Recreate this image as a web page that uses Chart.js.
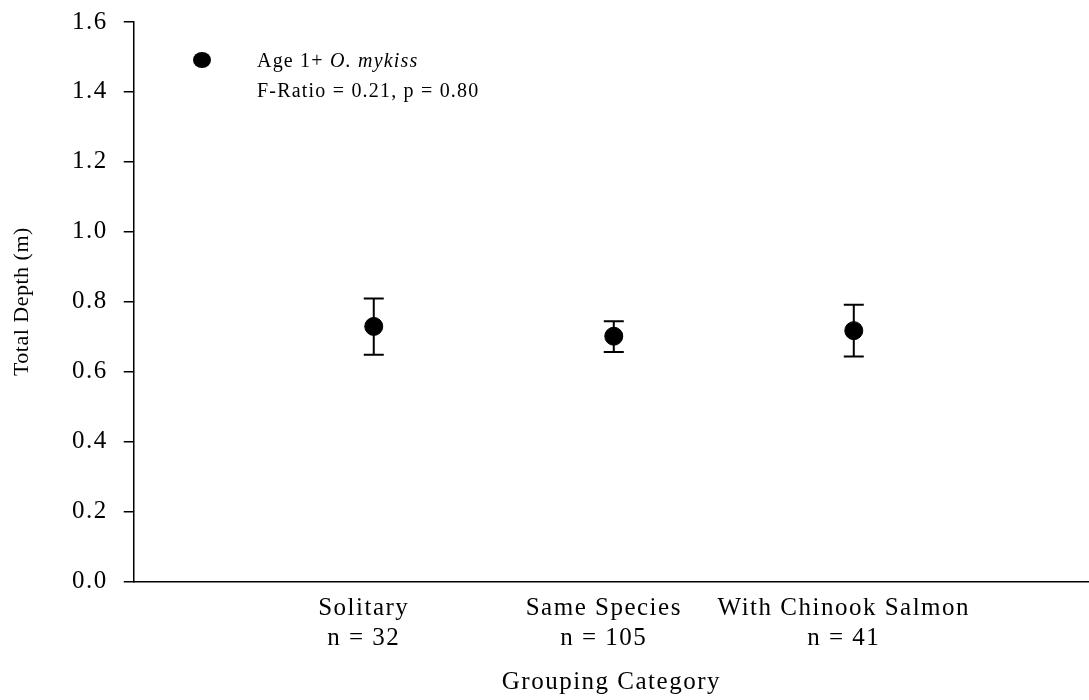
<!DOCTYPE html>
<html>
<head>
<meta charset="utf-8">
<title>Total Depth by Grouping Category</title>
<script src="https://cdn.jsdelivr.net/npm/chart.js@4"></script>
<style>
    html, body { margin: 0; background: #fff; overflow: hidden; }
    #wrap { width: 1089px; height: 700px; }
</style>
</head>
<body>
<div id="wrap"><canvas id="chart-depth"></canvas></div>
<script>
// Datos
const categorias = ['Solitary', 'Same Species', 'With Chinook Salmon'];
const tamanos = [32, 105, 41];
const posiciones = [1, 2, 3];
const medias = [0.729, 0.701, 0.717];
const limiteSup = [0.809, 0.744, 0.791];
const limiteInf = [0.648, 0.656, 0.643];
const ticksY = [0, 0.2, 0.4, 0.6, 0.8, 1.0, 1.2, 1.4, 1.6];

const SERIF = "'Liberation Serif', 'Times New Roman', serif";

// Espaciado de letras como en la figura original
const espaciado = {
    id: 'espaciado',
    beforeUpdate(chart) { chart.ctx.letterSpacing = '1.5px'; },
    beforeDraw(chart) { chart.ctx.letterSpacing = '1.5px'; }
};

// Barras de error (se dibujan antes de los puntos)
const errorBars = {
    id: 'errorBars',
    beforeDatasetsDraw(chart) {
        const ctx = chart.ctx;
        const x = chart.scales.x;
        const y = chart.scales.y;
        ctx.save();
        ctx.strokeStyle = '#000';
        ctx.lineWidth = 2;
        posiciones.forEach((p, i) => {
            const px = x.getPixelForValue(p);
            const top = y.getPixelForValue(limiteSup[i]);
            const bot = y.getPixelForValue(limiteInf[i]);
            ctx.beginPath();
            ctx.moveTo(px, top);
            ctx.lineTo(px, bot);
            ctx.moveTo(px - 10, top);
            ctx.lineTo(px + 10, top);
            ctx.moveTo(px - 10, bot);
            ctx.lineTo(px + 10, bot);
            ctx.stroke();
        });
        ctx.restore();
    }
};

// Leyenda y titulo del eje Y
const textos = {
    id: 'textos',
    afterDraw(chart) {
        const ctx = chart.ctx;
        const area = chart.chartArea;
        ctx.save();
        ctx.fillStyle = '#000';
        ctx.beginPath();
        ctx.ellipse(202, 60, 9, 8, 0, 0, Math.PI * 2);
        ctx.fill();

        ctx.textBaseline = 'middle';
        ctx.letterSpacing = '1.2px';
        ctx.font = '20px ' + SERIF;
        let tx = 257;
        const parte1 = 'Age 1+ ';
        ctx.fillText(parte1, tx, 62);
        tx += ctx.measureText(parte1).width;
        ctx.font = 'italic 20px ' + SERIF;
        ctx.fillText('O. mykiss', tx, 62);
        ctx.font = '20px ' + SERIF;
        ctx.fillText('F-Ratio = 0.21, p = 0.80', 257, 92);

        // Titulo del eje Y
        ctx.letterSpacing = '0.5px';
        ctx.font = '22px ' + SERIF;
        ctx.textAlign = 'center';
        ctx.translate(22, (area.top + area.bottom) / 2);
        ctx.rotate(-Math.PI / 2);
        ctx.fillText('Total Depth (m)', 0, 0);
        ctx.restore();
    }
};

new Chart(document.getElementById('chart-depth'), {
    type: 'scatter',
    data: {
        datasets: [{
            label: 'Age 1+ O. mykiss',
            data: posiciones.map((p, i) => ({ x: p, y: medias[i] })),
            backgroundColor: '#000',
            borderColor: '#000',
            pointRadius: 9,
            pointHoverRadius: 9,
            showLine: false
        }]
    },
    options: {
        responsive: true,
        maintainAspectRatio: false,
        animation: false,
        layout: {
            autoPadding: false,
            padding: { top: 22, right: 0, bottom: 3, left: 56 }
        },
        plugins: {
            legend: { display: false },
            tooltip: { enabled: false }
        },
        scales: {
            x: {
                type: 'linear',
                min: 0,
                max: 3.98,
                border: { display: true, color: '#000', width: 1.5 },
                grid: { display: false },
                afterBuildTicks: (axis) => {
                    axis.ticks = posiciones.map(v => ({ value: v }));
                },
                ticks: {
                    color: '#000',
                    padding: 4,
                    labelOffset: -10,
                    maxRotation: 0,
                    font: { family: SERIF, size: 25, lineHeight: 1.2 },
                    callback: function(value) {
                        const i = posiciones.indexOf(value);
                        return i >= 0 ? [categorias[i], 'n = ' + tamanos[i]] : '';
                    }
                },
                title: {
                    display: true,
                    text: 'Grouping Category',
                    color: '#000',
                    font: { family: SERIF, size: 25, lineHeight: 1.15 },
                    padding: { top: 11, bottom: 0 }
                }
            },
            y: {
                min: 0,
                max: 1.6,
                border: { display: true, color: '#000', width: 1.5 },
                grid: {
                    drawOnChartArea: false,
                    drawTicks: true,
                    tickLength: 10,
                    color: '#000',
                    lineWidth: 1.5
                },
                afterBuildTicks: (axis) => {
                    axis.ticks = ticksY.map(v => ({ value: v }));
                },
                // el margen superior lo fija layout.padding
                afterFit: (axis) => {
                    axis.paddingTop = 0;
                },
                ticks: {
                    color: '#000',
                    padding: 16,
                    font: { family: SERIF, size: 25 },
                    callback: (value) => value.toFixed(1)
                }
            }
        }
    },
    plugins: [espaciado, errorBars, textos]
});
</script>
</body>
</html>
